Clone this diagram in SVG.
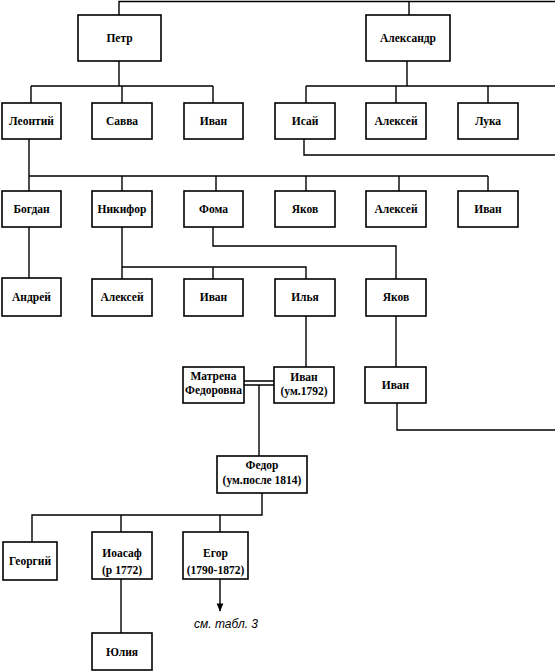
<svg xmlns="http://www.w3.org/2000/svg" width="555" height="671" viewBox="0 0 555 671">
<style>
rect.b{fill:#fff;stroke:#000;stroke-width:1.6}
text{font-family:"Liberation Serif","Times New Roman",serif;font-size:11.5px;font-weight:bold;text-anchor:middle;fill:#000}
.c path{fill:none;stroke:#000;stroke-width:1.4}
text.note{font-family:"Liberation Sans",Arial,sans-serif;font-style:italic;font-weight:normal;font-size:12px}
</style>
<defs>
<marker id="ah" viewBox="0 0 10 10" refX="9" refY="5" markerWidth="6" markerHeight="6" orient="auto"><path d="M0,1 L10,5 L0,9 Z" fill="#000"/></marker>
</defs>
<g class="c" id="connectors">
<path d="M119,15 V1.5 H555 M409,1.5 V15"/>
<path d="M119,61 V86 M31,86 H213 M31,86 V103 M122,86 V103 M213,86 V103"/>
<path d="M407,61 V86 M306,86 H555 M306,86 V103 M396,86 V103 M488,86 V103"/>
<path d="M304,139 V155 H555"/>
<path d="M29,139 V176 H488 M29,176 V191 M122,176 V191 M216,176 V191 M306,176 V191 M399,176 V191 M488,176 V191"/>
<path d="M29,227 V278"/>
<path d="M122,227 V267 H306 V279 M122,267 V279 M213,267 V279"/>
<path d="M213,227 V246 H396 V279"/>
<path d="M306,316 V367"/>
<path d="M396,316 V367 M397,403 V430 H555"/>
<path d="M244,381 H274 M244,385 H274 M259,385 V456"/>
<path d="M262,493 V515 H32 V542 M121,515 V532 M220,515 V532"/>
<path d="M121,579 V633"/>
<path d="M220,579 V611" marker-end="url(#ah)"/>
</g>
<g id="petr"><rect class="b" x="78" y="15" width="83" height="46"/><text x="119.5" y="42">Петр</text></g>
<g id="aleksandr"><rect class="b" x="366" y="15" width="84" height="46"/><text x="408" y="42">Александр</text></g>
<g id="leontiy"><rect class="b" x="2" y="103" width="59" height="36"/><text x="31.5" y="125">Леонтий</text></g>
<g id="savva"><rect class="b" x="92" y="103" width="60" height="36"/><text x="122" y="125">Савва</text></g>
<g id="ivan1"><rect class="b" x="184" y="103" width="59" height="36"/><text x="213.5" y="125">Иван</text></g>
<g id="isay"><rect class="b" x="275" y="103" width="60" height="36"/><text x="305" y="125">Исай</text></g>
<g id="aleksey1"><rect class="b" x="366" y="103" width="60" height="36"/><text x="396" y="125">Алексей</text></g>
<g id="luka"><rect class="b" x="458" y="103" width="60" height="36"/><text x="488" y="125">Лука</text></g>
<g id="bogdan"><rect class="b" x="2" y="191" width="59" height="36"/><text x="31.5" y="213">Богдан</text></g>
<g id="nikifor"><rect class="b" x="92" y="191" width="60" height="36"/><text x="122" y="213">Никифор</text></g>
<g id="foma"><rect class="b" x="184" y="191" width="59" height="36"/><text x="213.5" y="213">Фома</text></g>
<g id="yakov1"><rect class="b" x="275" y="191" width="60" height="36"/><text x="305" y="213">Яков</text></g>
<g id="aleksey2"><rect class="b" x="366" y="191" width="60" height="36"/><text x="396" y="213">Алексей</text></g>
<g id="ivan2"><rect class="b" x="458" y="191" width="60" height="36"/><text x="488" y="213">Иван</text></g>
<g id="andrey"><rect class="b" x="2" y="278" width="59" height="38"/><text x="31.5" y="301">Андрей</text></g>
<g id="aleksey3"><rect class="b" x="92" y="279" width="60" height="37"/><text x="122" y="301">Алексей</text></g>
<g id="ivan3"><rect class="b" x="184" y="279" width="59" height="37"/><text x="213.5" y="301">Иван</text></g>
<g id="ilya"><rect class="b" x="275" y="279" width="60" height="37"/><text x="305" y="301">Илья</text></g>
<g id="yakov2"><rect class="b" x="366" y="279" width="60" height="37"/><text x="396" y="301">Яков</text></g>
<g id="matrena"><rect class="b" x="183" y="367" width="61" height="36"/><text x="213.5" y="380">Матрена</text><text x="213.5" y="394">Федоровна</text></g>
<g id="ivan1792"><rect class="b" x="274" y="367" width="60" height="36"/><text x="304" y="381">Иван</text><text x="304" y="395">(ум.1792)</text></g>
<g id="ivan4"><rect class="b" x="365" y="367" width="61" height="36"/><text x="395.5" y="389">Иван</text></g>
<g id="fedor"><rect class="b" x="217" y="456" width="90" height="37"/><text x="262" y="469">Федор</text><text x="262" y="484">(ум.после 1814)</text></g>
<g id="georgiy"><rect class="b" x="3" y="542" width="54" height="38"/><text x="30" y="565">Георгий</text></g>
<g id="ioasaf"><rect class="b" x="92" y="532" width="60" height="47"/><text x="122" y="557">Иоасаф</text><text x="122" y="574">(р 1772)</text></g>
<g id="egor"><rect class="b" x="183" y="532" width="65" height="47"/><text x="215.5" y="557">Егор</text><text x="215.5" y="574">(1790-1872)</text></g>
<g id="yuliya"><rect class="b" x="92" y="633" width="60" height="37"/><text x="122" y="656">Юлия</text></g>
<text class="note" x="226" y="628">см. табл. 3</text>
</svg>
